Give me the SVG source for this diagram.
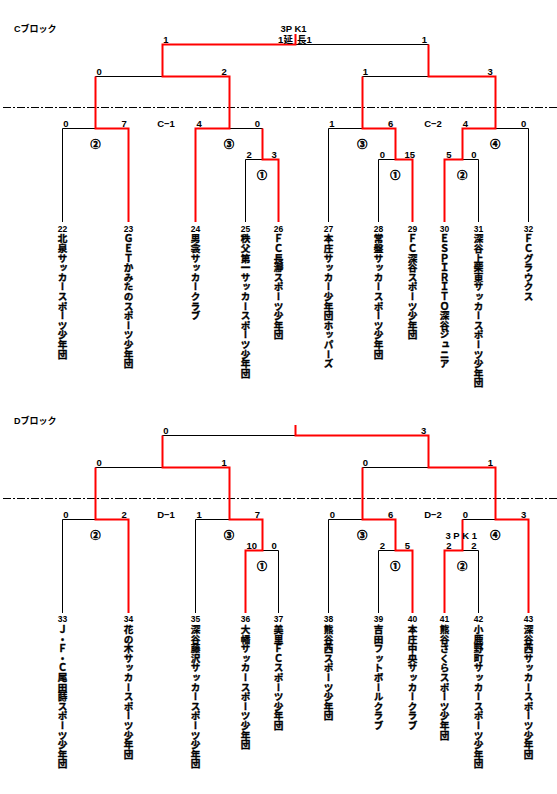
<svg xmlns="http://www.w3.org/2000/svg" width="557" height="794" viewBox="0 0 557 794">
<style>
.bk{fill:none;stroke:#000;stroke-width:1}
.rd{fill:none;stroke:#ff0000;stroke-width:2}
.dd{fill:none;stroke:#000;stroke-width:1;stroke-dasharray:8 2 2 2}
.sc{font-family:"Liberation Sans","Noto Sans CJK JP",sans-serif;font-weight:bold;font-size:9.5px;fill:#000;text-anchor:middle}
.cr{font-family:"Noto Sans CJK JP",sans-serif;font-weight:bold;font-size:10px;fill:#000;stroke:#000;stroke-width:0.6;text-anchor:middle}
.ti{font-family:"Liberation Sans","Noto Sans CJK JP",sans-serif;font-weight:bold;font-size:9px;fill:#000}
.no{font-family:"Liberation Sans",sans-serif;font-weight:bold;font-size:8.5px;fill:#000;text-anchor:middle}
.nm{font-family:"Noto Sans CJK JP",sans-serif;font-weight:bold;font-size:9.6px;fill:#000;stroke:#000;stroke-width:0.35;writing-mode:vertical-rl}
</style>
<rect width="557" height="794" fill="#fff"/>

<g id="titles">
<text class="ti" x="14" y="32">Cブロック</text>
<text class="ti" x="14" y="424">Dブロック</text>
</g>

<g id="connectors">
<!-- C block black -->
<path class="bk" d="M162.5,44.5H428.5M162.5,44.5V76.5M428.5,44.5V76.5"/>
<path class="bk" d="M95.5,76.5H229.5M95.5,76.5V128.5M229.5,76.5V128.5M362.5,76.5H495.5M362.5,76.5V128.5M495.5,76.5V128.5"/>
<path class="bk" d="M62.5,128.5H128.5M62.5,128.5V222M128.5,128.5V222M195.5,128.5H262.5M195.5,128.5V222M262.5,128.5V159.5M328.5,128.5H395.5M328.5,128.5V222M395.5,128.5V159.5M462.5,128.5H528.5M462.5,128.5V159.5M528.5,128.5V222"/>
<path class="bk" d="M245.5,159.5H278.5M245.5,159.5V222M278.5,159.5V222M378.5,159.5H412.5M378.5,159.5V222M412.5,159.5V222M444.5,159.5H478.5M444.5,159.5V222M478.5,159.5V222"/>
<line class="dd" x1="3" y1="107.5" x2="557" y2="107.5"/>
<!-- C block red -->
<path class="rd" d="M295.5,34V44.5H162.5V76.5H229.5V128.5H195.5V222"/>
<path class="rd" d="M95.5,76.5V128.5H128.5V222"/>
<path class="rd" d="M262.5,128.5V159.5H278.5V222"/>
<path class="rd" d="M428.5,44.5V76.5H495.5V128.5H462.5V159.5H444.5V222"/>
<path class="rd" d="M362.5,76.5V128.5H395.5V159.5H412.5V222"/>

<!-- D block black -->
<path class="bk" d="M162.5,435.5H428.5M162.5,435.5V467.5M428.5,435.5V467.5"/>
<path class="bk" d="M95.5,467.5H229.5M95.5,467.5V519.5M229.5,467.5V519.5M362.5,467.5H495.5M362.5,467.5V519.5M495.5,467.5V519.5"/>
<path class="bk" d="M62.5,519.5H128.5M62.5,519.5V613M128.5,519.5V613M195.5,519.5H262.5M195.5,519.5V613M262.5,519.5V550.5M328.5,519.5H395.5M328.5,519.5V613M395.5,519.5V550.5M462.5,519.5H528.5M462.5,519.5V550.5M528.5,519.5V613"/>
<path class="bk" d="M245.5,550.5H278.5M245.5,550.5V613M278.5,550.5V613M378.5,550.5H412.5M378.5,550.5V613M412.5,550.5V613M444.5,550.5H478.5M444.5,550.5V613M478.5,550.5V613"/>
<line class="dd" x1="3" y1="498.5" x2="557" y2="498.5"/>
<!-- D block red -->
<path class="rd" d="M295.5,425V435.5H428.5V467.5H495.5V519.5H528.5V613"/>
<path class="rd" d="M162.5,435.5V467.5H229.5V519.5H262.5V550.5H245.5V613"/>
<path class="rd" d="M95.5,467.5V519.5H128.5V613"/>
<path class="rd" d="M362.5,467.5V519.5H395.5V550.5H412.5V613"/>
<path class="rd" d="M462.5,519.5V550.5H444.5V613"/>
</g>

<g id="scores-C">
<text class="sc" x="293.5" y="31.5">3P K1</text>
<text class="sc" x="285.5" y="42.5">1延</text>
<text class="sc" x="304.5" y="42.5">長1</text>
<text class="sc" x="166" y="42.5">1</text>
<text class="sc" x="424.3" y="42.5">1</text>
<text class="sc" x="99.2" y="74.5">0</text>
<text class="sc" x="224.2" y="74.5">2</text>
<text class="sc" x="365.3" y="74.5">1</text>
<text class="sc" x="490.2" y="74.5">3</text>
<text class="sc" x="65.8" y="126.5">0</text>
<text class="sc" x="124.2" y="126.5">7</text>
<text class="sc" x="166" y="126.5">C−1</text>
<text class="sc" x="199.2" y="126.5">4</text>
<text class="sc" x="257.5" y="126.5">0</text>
<text class="sc" x="332" y="126.5">1</text>
<text class="sc" x="390.7" y="126.5">6</text>
<text class="sc" x="433" y="126.5">C−2</text>
<text class="sc" x="465.3" y="126.5">4</text>
<text class="sc" x="523.7" y="126.5">0</text>
<text class="sc" x="249.2" y="157.5">2</text>
<text class="sc" x="274.2" y="157.5">3</text>
<text class="sc" x="382.3" y="157.5">0</text>
<text class="sc" x="409.8" y="157.5">15</text>
<text class="sc" x="449" y="157.5">5</text>
<text class="sc" x="474" y="157.5">0</text>
<text class="cr" x="95.5" y="147.5">②</text>
<text class="cr" x="229" y="147.5">③</text>
<text class="cr" x="262" y="178.8">①</text>
<text class="cr" x="362.3" y="147.5">③</text>
<text class="cr" x="495.3" y="147.5">④</text>
<text class="cr" x="395.3" y="178.8">①</text>
<text class="cr" x="462.3" y="178.8">②</text>
</g>

<g id="scores-D">
<text class="sc" x="166" y="433.5">0</text>
<text class="sc" x="423.7" y="433.5">3</text>
<text class="sc" x="99.2" y="465.5">0</text>
<text class="sc" x="224.2" y="465.5">1</text>
<text class="sc" x="365.3" y="465.5">0</text>
<text class="sc" x="490.3" y="465.5">1</text>
<text class="sc" x="65.8" y="517.5">0</text>
<text class="sc" x="124.2" y="517.5">2</text>
<text class="sc" x="166" y="517.5">D−1</text>
<text class="sc" x="199.2" y="517.5">1</text>
<text class="sc" x="257.5" y="517.5">7</text>
<text class="sc" x="332.3" y="517.5">0</text>
<text class="sc" x="390.7" y="517.5">6</text>
<text class="sc" x="433" y="517.5">D−2</text>
<text class="sc" x="465.3" y="517.5">0</text>
<text class="sc" x="523.7" y="517.5">3</text>
<text class="sc" x="461.2" y="538.5">3 P K 1</text>
<text class="sc" x="251.7" y="548.5">10</text>
<text class="sc" x="274.2" y="548.5">0</text>
<text class="sc" x="382.3" y="548.5">2</text>
<text class="sc" x="407.5" y="548.5">5</text>
<text class="sc" x="449" y="548.5">2</text>
<text class="sc" x="474" y="548.5">2</text>
<text class="cr" x="95.5" y="538.5">②</text>
<text class="cr" x="229" y="538.5">③</text>
<text class="cr" x="262" y="569.8">①</text>
<text class="cr" x="362.3" y="538.5">③</text>
<text class="cr" x="495.3" y="538.5">④</text>
<text class="cr" x="395.3" y="569.8">①</text>
<text class="cr" x="462.3" y="569.8">②</text>
</g>

<g id="team22"><text class="no" x="62.5" y="231.5">22</text><text class="nm" x="62.5" y="234">北泉サッカースポーツ少年団</text></g>
<g id="team23"><text class="no" x="128.5" y="231.5">23</text><text class="nm" x="128.5" y="234">ＧＥＴかみたのスポーツ少年団</text></g>
<g id="team24"><text class="no" x="195.5" y="231.5">24</text><text class="nm" x="195.5" y="234">男衾サッカークラブ</text></g>
<g id="team25"><text class="no" x="245.5" y="231.5">25</text><text class="nm" x="245.5" y="234">秩父第一サッカースポーツ少年団</text></g>
<g id="team26"><text class="no" x="278.5" y="231.5">26</text><text class="nm" x="278.5" y="234">ＦＣ長瀞スポーツ少年団</text></g>
<g id="team27"><text class="no" x="328.5" y="231.5">27</text><text class="nm" x="328.5" y="234">本庄サッカー少年団ホッパーズ</text></g>
<g id="team28"><text class="no" x="378.5" y="231.5">28</text><text class="nm" x="378.5" y="234">常盤サッカースポーツ少年団</text></g>
<g id="team29"><text class="no" x="412.5" y="231.5">29</text><text class="nm" x="412.5" y="234">ＦＣ深谷スポーツ少年団</text></g>
<g id="team30"><text class="no" x="444.5" y="231.5">30</text><text class="nm" x="444.5" y="234">ＥＳＰＩＲＩＴＯ深谷ジュニア</text></g>
<g id="team31"><text class="no" x="478.5" y="231.5">31</text><text class="nm" x="478.5" y="234">深谷上柴東サッカースポーツ少年団</text></g>
<g id="team32"><text class="no" x="528.5" y="231.5">32</text><text class="nm" x="528.5" y="234">ＦＣグラウクス</text></g>

<g id="team33"><text class="no" x="62.5" y="622">33</text><text class="nm" x="62.5" y="624.5">Ｊ・Ｆ・Ｃ尾田蒔スポーツ少年団</text></g>
<g id="team34"><text class="no" x="128.5" y="622">34</text><text class="nm" x="128.5" y="624.5">花の木サッカースポーツ少年団</text></g>
<g id="team35"><text class="no" x="195.5" y="622">35</text><text class="nm" x="195.5" y="624.5">深谷藤沢サッカースポーツ少年団</text></g>
<g id="team36"><text class="no" x="245.5" y="622">36</text><text class="nm" x="245.5" y="624.5">大幡サッカースポーツ少年団</text></g>
<g id="team37"><text class="no" x="278.5" y="622">37</text><text class="nm" x="278.5" y="624.5">美里ＦＣスポーツ少年団</text></g>
<g id="team38"><text class="no" x="328.5" y="622">38</text><text class="nm" x="328.5" y="624.5">熊谷西スポーツ少年団</text></g>
<g id="team39"><text class="no" x="378.5" y="622">39</text><text class="nm" x="378.5" y="624.5">吉田フットボールクラブ</text></g>
<g id="team40"><text class="no" x="412.5" y="622">40</text><text class="nm" x="412.5" y="624.5">本庄中央サッカークラブ</text></g>
<g id="team41"><text class="no" x="444.5" y="622">41</text><text class="nm" x="444.5" y="624.5">熊谷さくらスポーツ少年団</text></g>
<g id="team42"><text class="no" x="478.5" y="622">42</text><text class="nm" x="478.5" y="624.5">小鹿野町サッカースポーツ少年団</text></g>
<g id="team43"><text class="no" x="528.5" y="622">43</text><text class="nm" x="528.5" y="624.5">深谷西サッカースポーツ少年団</text></g>
</svg>
